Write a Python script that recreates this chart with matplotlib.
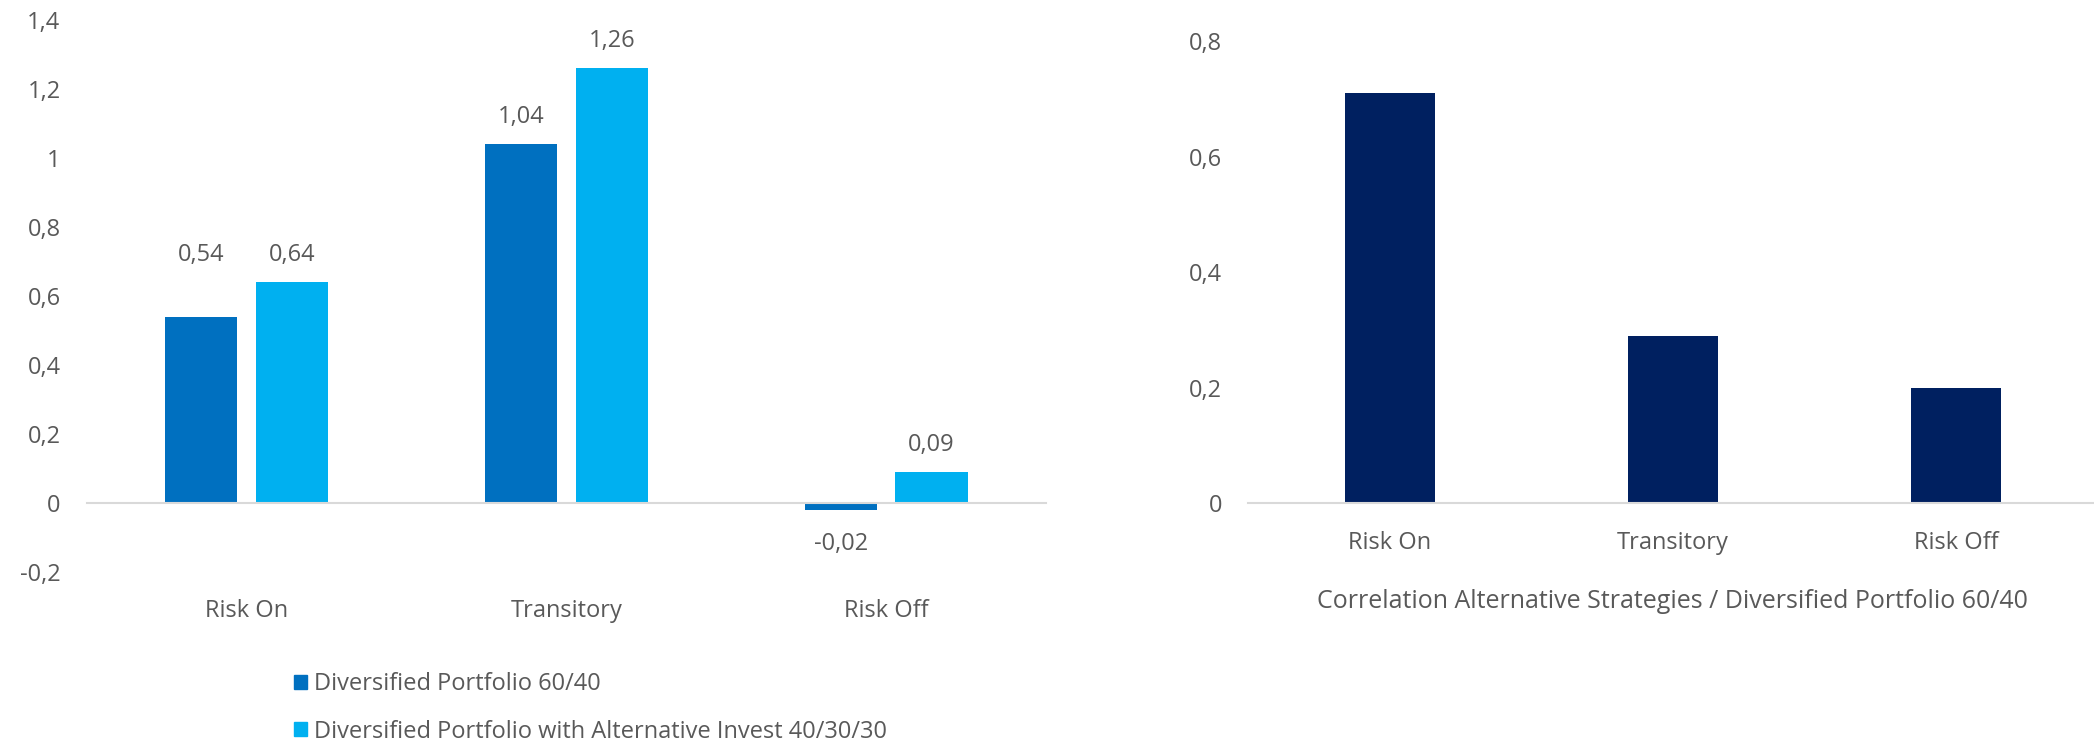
import matplotlib.pyplot as plt
from matplotlib.patches import Patch
from matplotlib.ticker import FuncFormatter, MultipleLocator

plt.rcParams['font.family'] = ['Open Sans', 'DejaVu Sans']

# Return by market regime
regimes = ['Risk On', 'Transitory', 'Risk Off']
portfolio_60_40 = [0.54, 1.04, -0.02]
portfolio_alt = [0.64, 1.26, 0.09]
series_names = ['Diversified Portfolio 60/40',
                'Diversified Portfolio with Alternative Invest 40/30/30']

# Correlation of alternative strategies with the 60/40 portfolio
correlation = [0.71, 0.29, 0.20]
corr_label = 'Correlation Alternative Strategies / Diversified Portfolio 60/40'

DARK = '#0070C0'
LIGHT = '#00B0F0'
NAVY = '#002060'
TEXT = '#595959'
GRID = '#D9D9D9'
FS = 17


def comma(v, pos=None):
    s = '{:g}'.format(round(v, 2))
    return s.replace('.', ',')


def style(ax):
    for side in ['top', 'right', 'left']:
        ax.spines[side].set_visible(False)
    ax.spines['bottom'].set_color(GRID)
    ax.spines['bottom'].set_linewidth(1.5)
    ax.tick_params(length=0, colors=TEXT, labelsize=FS)
    ax.tick_params(axis='y', pad=19)
    ax.tick_params(axis='x', pad=20)
    ax.yaxis.set_major_formatter(FuncFormatter(comma))


fig = plt.figure(figsize=(20.94, 7.40), dpi=100)

# left: grouped bars
ax1 = fig.add_axes([0.0415, 0.2264, 0.458, 0.7466])
x = range(len(regimes))
w = 0.226
off = 0.142
ax1.bar([i - off for i in x], portfolio_60_40, w, color=DARK)
ax1.bar([i + off for i in x], portfolio_alt, w, color=LIGHT)
ax1.set_xlim(-0.5, 2.5)
ax1.set_ylim(-0.2, 1.4)
ax1.yaxis.set_major_locator(MultipleLocator(0.2))
ax1.set_xticks(list(x))
ax1.set_xticklabels(regimes)
style(ax1)
ax1.spines['bottom'].set_position(('data', 0))
ax1.tick_params(axis='x', pad=19 + 0.2 * 345 * 0.72)

for i, (a, b) in enumerate(zip(portfolio_60_40, portfolio_alt)):
    for xpos, v in [(i - off, a), (i + off, b)]:
        anchor = v
        if i == 0:
            # keep both labels of the first group on one line
            anchor = max(a, b)
        dy = 19.5 if v >= 0 else -24
        ax1.annotate(comma(v), (xpos, anchor), xytext=(0, dy),
                     textcoords='offset points', ha='center', va='center',
                     fontsize=FS, color=TEXT)

fig.legend(handles=[Patch(color=DARK), Patch(color=LIGHT)], labels=series_names,
           loc='upper left', bbox_to_anchor=(0.136, 0.104), frameon=False,
           fontsize=FS, labelcolor=TEXT, handlelength=0.55, handleheight=0.55,
           handletextpad=0.3, labelspacing=0.98, borderaxespad=0)

# right: correlation bars
ax2 = fig.add_axes([0.5962, 0.3196, 0.4054, 0.6249])
ax2.bar(list(range(len(regimes))), correlation, 0.316, color=NAVY)
ax2.set_xlim(-0.5, 2.5)
ax2.set_ylim(0, 0.8)
ax2.yaxis.set_major_locator(MultipleLocator(0.2))
ax2.set_xticks(list(range(len(regimes))))
ax2.set_xticklabels(regimes)
ax2.set_xlabel(corr_label, fontsize=FS + 1, color=TEXT, labelpad=24)
style(ax2)

fig.savefig('out.png', dpi=100)
